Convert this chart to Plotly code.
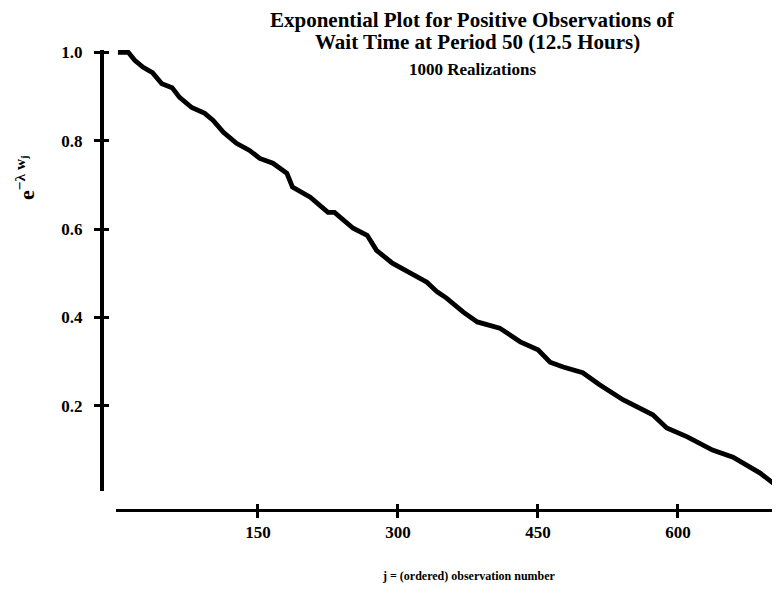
import plotly.graph_objects as go

# ordered observation number j and exp(-lambda * w_j)
obs_j = [0, 11, 18, 27, 37, 47, 58, 66, 79, 93, 102, 113, 127, 141, 152, 166, 181, 187,
         206, 225, 232, 252, 267, 277, 294, 316, 331, 342, 352, 370, 385, 409, 431, 450,
         463, 477, 498, 516, 541, 573, 588, 610, 637, 659, 688, 707, 708]
exp_val = [1.0, 1.0, 0.982, 0.966, 0.954, 0.929, 0.920, 0.898, 0.875, 0.862, 0.846, 0.819,
           0.794, 0.778, 0.760, 0.749, 0.726, 0.695, 0.672, 0.638, 0.638, 0.602, 0.586,
           0.552, 0.523, 0.496, 0.480, 0.458, 0.444, 0.412, 0.390, 0.376, 0.345, 0.327,
           0.299, 0.288, 0.275, 0.248, 0.214, 0.180, 0.150, 0.130, 0.100, 0.084, 0.048,
           0.017, 0.005]

x_ticks = [150, 300, 450, 600]
y_ticks = [0.2, 0.4, 0.6, 0.8, 1.0]
y_tick_text = ["0.2", "0.4", "0.6", "0.8", "1.0"]

FONT = "Liberation Serif"
W, H = 780, 603
OFF = 8  # page offset of the figure inside the browser window
ML, MR, MT, MB = 94, 8, 42, 101
PW, PH = W - ML - MR, H - MT - MB

def px_x(p):
    return (p - OFF - ML) / PW

def px_y(p):
    return (H - MB - (p - OFF)) / PH

fig = go.Figure()
fig.add_trace(go.Scatter(x=obs_j, y=exp_val, mode="lines",
                         line=dict(color="black", width=4.8),
                         showlegend=False, hoverinfo="skip"))
# empty trace so the overlay axes (inner half of the crossing ticks) are drawn
fig.add_trace(go.Scatter(x=[None], y=[None], xaxis="x2", yaxis="y2",
                         mode="lines", showlegend=False, hoverinfo="skip"))

x_range = [-2.1, 709.3]
y_range = [0.0075, 1.0052]
x_dom = [px_x(116), 1.0]
y_dom = [px_y(491), 1.0]

common_x = dict(range=x_range, domain=x_dom, anchor="free", position=0,
                tickvals=x_ticks, showgrid=False, zeroline=False,
                linecolor="black", tickcolor="black", tickwidth=2.5, ticklen=6)
common_y = dict(range=y_range, domain=y_dom, anchor="free", position=0,
                tickvals=y_ticks, showgrid=False, zeroline=False,
                linecolor="black", tickcolor="black", tickwidth=2.5, ticklen=6)

tickfont = dict(family=FONT, size=17, color="black", weight="bold")

fig.update_layout(
    width=W, height=H,
    margin=dict(l=ML, r=MR, t=MT, b=MB),
    paper_bgcolor="white", plot_bgcolor="white",
    font=dict(family=FONT, color="black"),
    xaxis=dict(**common_x, showline=True, linewidth=3, ticks="outside",
               ticktext=[str(v) for v in x_ticks], tickfont=tickfont),
    yaxis=dict(**common_y, showline=True, linewidth=4, ticks="outside",
               ticktext=y_tick_text, tickfont=tickfont, ticklabelstandoff=8),
    xaxis2=dict(**common_x, overlaying="x", showline=False, ticks="inside",
                showticklabels=False),
    yaxis2=dict(**common_y, overlaying="y", showline=False, ticks="inside",
                showticklabels=False),
)

def note(text, x, y, size, angle=0):
    fig.add_annotation(text=text, xref="paper", yref="paper",
                       x=px_x(x), y=px_y(y), xanchor="center", yanchor="middle",
                       showarrow=False, textangle=angle,
                       font=dict(family=FONT, size=size, color="black", weight="bold"))

note("Exponential Plot for Positive Observations of", 472, 20, 21)
note("Wait Time at Period 50 (12.5 Hours)", 477, 42, 21)
note("1000 Realizations", 472, 70, 17)
note("j = (ordered) observation number", 469, 576, 12)
note("e<sup>−λ w<sub>j</sub></sup>", 25, 178, 22, angle=-90)

fig.write_html("out.html")
